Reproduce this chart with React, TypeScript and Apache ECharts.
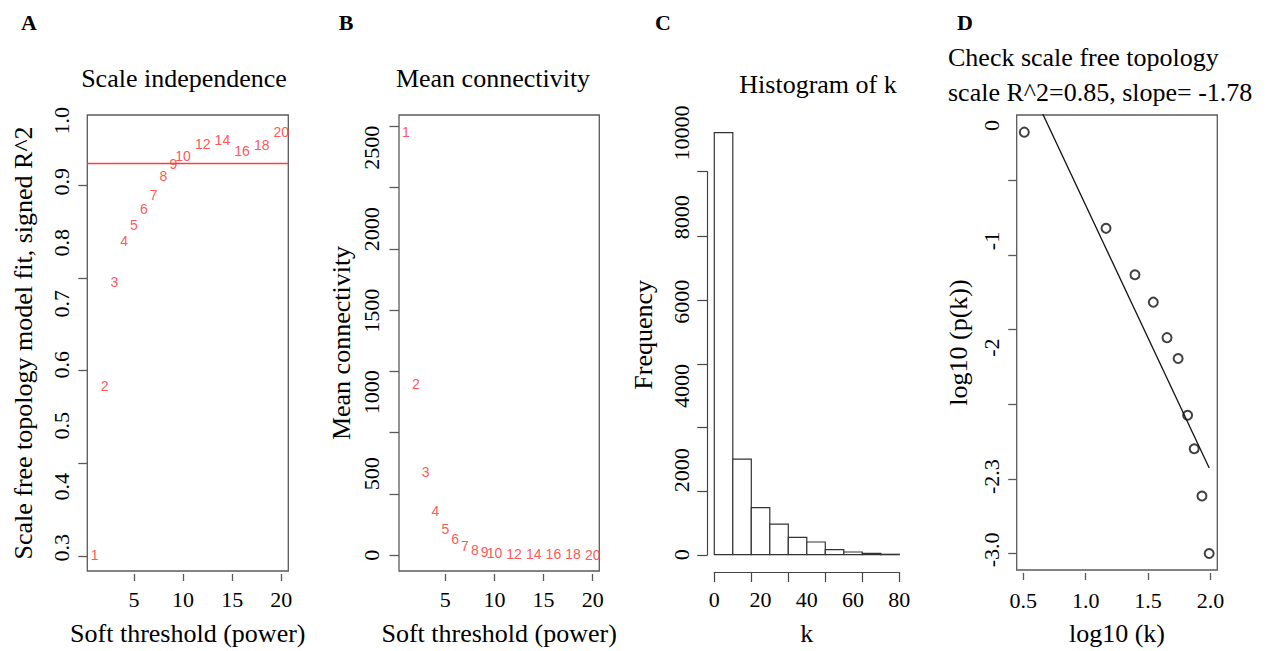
import React, { useEffect, useRef } from "react";
import * as echarts from "echarts";

// ---------- Panel A: scale independence ----------
const POWERS = [1, 2, 3, 4, 5, 6, 7, 8, 9, 10, 12, 14, 16, 18, 20];
const SIGNED_R2 = [0.288, 0.565, 0.736, 0.803, 0.83, 0.855, 0.879, 0.91, 0.93, 0.943, 0.962, 0.969, 0.95, 0.96, 0.981];
const R2_CUTOFF = 0.932;
const A_Y_LABELS = [0.3, 0.4, 0.5, 0.6, 0.7, 0.8, 0.9, 1.0];
const A_Y_TICK_AT = [0.287, 0.439, 0.591, 0.742, 0.894];
const POWER_TICKS = [5, 10, 15, 20];

// ---------- Panel B: mean connectivity ----------
const MEAN_K = [2596, 1049, 510, 274, 164, 99, 55, 34, 23, 15, 9, 7, 6, 5, 2];
const B_Y_LABELS = [0, 500, 1000, 1500, 2000, 2500];
const B_Y_TICK_AT = [0, 376, 752, 1128, 1504, 1880, 2256, 2632];

// ---------- Panel C: histogram of k ----------
const K_BREAKS = [0, 8, 16, 24, 32, 40, 48, 56, 64, 72, 80];
const K_FREQ = [10007, 2268, 1114, 727, 410, 301, 118, 64, 31, 10];
const C_X_TICK_AT = [0, 16, 32, 48, 64, 80];
const C_X_LABELS = [0, 20, 40, 60, 80];
const C_Y_LABELS = [0, 2000, 4000, 6000, 8000, 10000];
const C_Y_TICK_AT = [0, 1500, 3017, 4526, 6043, 7559, 9083];

// ---------- Panel D: scale free topology check ----------
const LOG_K = [0.508, 1.163, 1.395, 1.542, 1.652, 1.741, 1.817, 1.87, 1.932, 1.99];
const LOG_PK = [-0.175, -0.82, -1.131, -1.315, -1.553, -1.693, -2.073, -2.298, -2.615, -3.0];
const FIT_LINE = [
  [0.508, 0.21],
  [1.99, -2.427],
];
const D_X_TICKS = [0.5, 1.0, 1.5, 2.0];
const D_Y_TICK_AT = [-3.0, -2.5, -2.0, -1.5, -1.0, -0.5];
const D_Y_LABEL_AT = [-2.976, -2.485, -1.62, -0.905, -0.131];
const D_Y_LABEL_TEXT = ["-3.0", "-2.3", "-2", "-1", "0"];

const SERIF = "'Liberation Serif', 'Times New Roman', Times, serif";
const SANS = "'Liberation Sans', Arial, Helvetica, sans-serif";
const BOX = "#5a5a5a";
const RED = "#ff2a2a";

const tickLabelStyle = { fontSize: 22, fontFamily: SERIF, color: "#000" };
const nameStyle = { fontSize: 26, fontFamily: SERIF, color: "#000" };

function nearestText(v: number, at: number[], texts: string[]) {
  let best = 0;
  for (let i = 1; i < at.length; i++) if (Math.abs(at[i] - v) < Math.abs(at[best] - v)) best = i;
  return texts[best];
}

export default function App() {
  const ref = useRef<HTMLDivElement>(null);
  useEffect(() => {
    if (!ref.current) return;
    const chart = echarts.init(ref.current, undefined, { renderer: "svg" });

    const boxGrid = (left: number, top: number, width: number, height: number) => ({
      left,
      top,
      width,
      height,
      show: true,
      borderColor: BOX,
      borderWidth: 1.3,
      backgroundColor: "transparent",
    });

    const powerX = (gi: number, min: number, max: number) => ({
      type: "value",
      gridIndex: gi,
      min,
      max,
      offset: 3,
      axisLine: { show: false, onZero: false },
      axisTick: { show: true, length: 7, customValues: POWER_TICKS, lineStyle: { color: BOX, width: 1.3 } },
      axisLabel: { show: true, customValues: POWER_TICKS, margin: 14, formatter: (v: number) => String(v), ...tickLabelStyle },
      splitLine: { show: false },
      name: "Soft threshold (power)",
      nameLocation: "middle",
      nameGap: 46,
      nameTextStyle: nameStyle,
    });

    const redLabel = {
      show: true,
      position: "inside",
      formatter: (p: any) => String(p.value[0]),
      color: RED,
      fontSize: 14,
      fontFamily: SANS,
    };

    const option: any = {
      animation: false,
      backgroundColor: "#fff",
      grid: [
        boxGrid(87.3, 115, 201, 458.3),
        boxGrid(399, 115, 200.3, 458.3),
        { left: 714.3, top: 115, width: 185, height: 440, show: false },
        { left: 707.3, top: 171.7, width: 192, height: 383.3, show: false },
        boxGrid(1016.7, 115, 200.6, 457.7),
      ],
      xAxis: [
        powerX(0, 0.245, 20.71),
        powerX(1, 0.29, 20.67),
        {
          type: "value",
          gridIndex: 2,
          min: 0,
          max: 80,
          offset: 17.3,
          axisLine: { show: true, onZero: false, lineStyle: { color: "#444", width: 1.2 } },
          axisTick: { show: true, length: 10, customValues: C_X_TICK_AT, lineStyle: { color: "#444", width: 1.2 } },
          axisLabel: { show: true, customValues: C_X_LABELS, margin: 16.5, formatter: (v: number) => String(v), ...tickLabelStyle },
          splitLine: { show: false },
          name: "k",
          nameLocation: "middle",
          nameGap: 48,
          nameTextStyle: nameStyle,
        },
        { type: "value", gridIndex: 3, min: 0, max: 80, show: false },
        {
          type: "value",
          gridIndex: 4,
          min: 0.447,
          max: 2.055,
          offset: 3,
          axisLine: { show: false, onZero: false },
          axisTick: { show: true, length: 7, customValues: D_X_TICKS, lineStyle: { color: BOX, width: 1.3 } },
          axisLabel: {
            show: true,
            customValues: D_X_TICKS,
            margin: 16,
            formatter: (v: number) => v.toFixed(1),
            ...tickLabelStyle,
          },
          splitLine: { show: false },
          name: "log10 (k)",
          nameLocation: "middle",
          nameGap: 47,
          nameTextStyle: nameStyle,
        },
      ],
      yAxis: [
        {
          type: "value",
          gridIndex: 0,
          min: 0.262,
          max: 1.0096,
          axisLine: { show: false, onZero: false },
          axisTick: { show: true, length: 9, customValues: A_Y_TICK_AT, lineStyle: { color: BOX, width: 1.3 } },
          axisLabel: {
            show: true,
            rotate: 90,
            customValues: A_Y_LABELS,
            margin: 14.5,
            formatter: (v: number) => v.toFixed(1),
            ...tickLabelStyle,
          },
          splitLine: { show: false },
          name: "Scale free topology model fit, signed R^2",
          nameLocation: "middle",
          nameGap: 51,
          nameTextStyle: nameStyle,
        },
        {
          type: "value",
          gridIndex: 1,
          min: -96.5,
          max: 2701,
          axisLine: { show: false, onZero: false },
          axisTick: { show: true, length: 9.5, customValues: B_Y_TICK_AT, lineStyle: { color: BOX, width: 1.3 } },
          axisLabel: {
            show: true,
            rotate: 90,
            customValues: B_Y_LABELS,
            margin: 17,
            formatter: (v: number) => String(v),
            ...tickLabelStyle,
          },
          splitLine: { show: false },
          name: "Mean connectivity",
          nameLocation: "middle",
          nameGap: 45,
          nameTextStyle: nameStyle,
        },
        {
          type: "value",
          gridIndex: 2,
          min: 0,
          max: 10427,
          offset: 7,
          axisLine: { show: false, onZero: false },
          axisTick: { show: false },
          axisLabel: {
            show: true,
            rotate: 90,
            customValues: C_Y_LABELS,
            margin: 14.5,
            formatter: (v: number) => String(v),
            ...tickLabelStyle,
          },
          splitLine: { show: false },
          name: "Frequency",
          nameLocation: "middle",
          nameGap: 51,
          nameTextStyle: nameStyle,
        },
        {
          type: "value",
          gridIndex: 3,
          min: 0,
          max: 9083,
          axisLine: { show: true, onZero: false, lineStyle: { color: "#444", width: 1.2 } },
          axisTick: { show: true, length: 10, customValues: C_Y_TICK_AT, lineStyle: { color: "#444", width: 1.2 } },
          axisLabel: { show: false },
          splitLine: { show: false },
        },
        {
          type: "value",
          gridIndex: 4,
          min: -3.111,
          max: -0.06,
          axisLine: { show: false, onZero: false },
          axisTick: { show: true, length: 8.5, customValues: D_Y_TICK_AT, lineStyle: { color: BOX, width: 1.3 } },
          axisLabel: {
            show: true,
            rotate: 90,
            customValues: D_Y_LABEL_AT,
            margin: 14,
            formatter: (v: number) => nearestText(v, D_Y_LABEL_AT, D_Y_LABEL_TEXT),
            ...tickLabelStyle,
          },
          splitLine: { show: false },
          name: "log10 (p(k))",
          nameLocation: "middle",
          nameGap: 45,
          nameTextStyle: nameStyle,
        },
      ],
      series: [
        {
          type: "scatter",
          xAxisIndex: 0,
          yAxisIndex: 0,
          data: POWERS.map((p, i) => [p, SIGNED_R2[i]]),
          symbol: "circle",
          symbolSize: 1,
          itemStyle: { color: "rgba(0,0,0,0)" },
          label: redLabel,
          markLine: {
            silent: true,
            symbol: "none",
            label: { show: false },
            lineStyle: { color: "#ff4040", width: 1.3, type: "solid" },
            data: [{ yAxis: R2_CUTOFF }],
          },
        },
        {
          type: "scatter",
          xAxisIndex: 1,
          yAxisIndex: 1,
          data: POWERS.map((p, i) => [p, MEAN_K[i]]),
          symbol: "circle",
          symbolSize: 1,
          itemStyle: { color: "rgba(0,0,0,0)" },
          label: redLabel,
        },
        {
          type: "custom",
          xAxisIndex: 2,
          yAxisIndex: 2,
          data: K_FREQ.map((f, i) => [K_BREAKS[i], K_BREAKS[i + 1], f]),
          encode: { x: [0, 1], y: 2 },
          renderItem: (_params: any, api: any) => {
            const p0 = api.coord([api.value(0), api.value(2)]);
            const p1 = api.coord([api.value(1), 0]);
            return {
              type: "rect",
              shape: { x: p0[0], y: p0[1], width: p1[0] - p0[0], height: p1[1] - p0[1] },
              style: { fill: "#fff", stroke: "#333", lineWidth: 1.2 },
            };
          },
        },
        {
          type: "line",
          xAxisIndex: 4,
          yAxisIndex: 4,
          data: FIT_LINE,
          symbol: "none",
          clip: true,
          lineStyle: { color: "#111", width: 1.3 },
        },
        {
          type: "scatter",
          xAxisIndex: 4,
          yAxisIndex: 4,
          data: LOG_K.map((x, i) => [x, LOG_PK[i]]),
          symbol: "emptyCircle",
          symbolSize: 9,
          itemStyle: { color: "#111", borderWidth: 1 },
        },
      ],
      graphic: [
        ...[
          ["A", 29, 22],
          ["B", 346, 22],
          ["C", 663, 22],
          ["D", 965, 22],
        ].map(([t, x, y]) => ({
          type: "text",
          x,
          y,
          style: {
            text: t,
            fontSize: 22,
            fontWeight: "bold",
            fontFamily: SERIF,
            fill: "#000",
            align: "center",
            verticalAlign: "middle",
          },
        })),
        ...[
          ["Scale independence", 184, 78, "center"],
          ["Mean connectivity", 493, 78, "center"],
          ["Histogram of k", 818, 84, "center"],
          ["Check scale free topology", 948, 57, "left"],
          ["scale R^2=0.85, slope= -1.78", 948, 92, "left"],
        ].map(([t, x, y, a]) => ({
          type: "text",
          x,
          y,
          style: {
            text: t,
            fontSize: 26,
            fontFamily: SERIF,
            fill: "#000",
            align: a,
            verticalAlign: "middle",
          },
        })),
      ],
    };

    chart.setOption(option);
    return () => chart.dispose();
  }, []);

  return (
    <div
      ref={ref}
      style={{ position: "fixed", left: 0, top: 0, width: 1279, height: 651, background: "#fff" }}
    />
  );
}
